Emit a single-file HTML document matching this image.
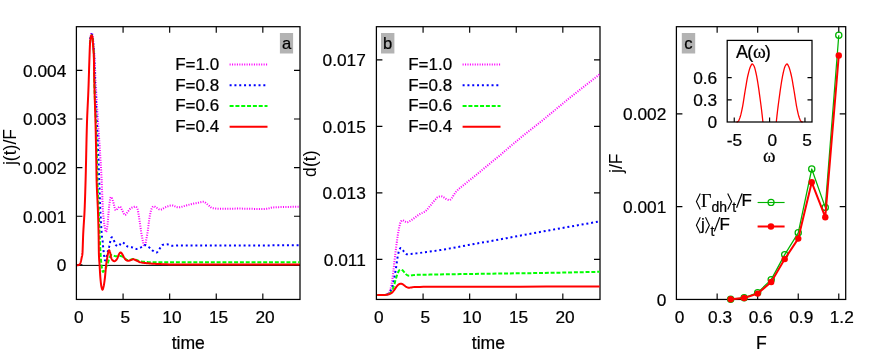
<!DOCTYPE html>
<html lang="en">
<head>
<meta charset="utf-8">
<title>Figure: j(t)/F, d(t) and j/F vs F</title>
<style>
html,body{margin:0;padding:0;background:#fff;}
body{width:872px;height:354px;overflow:hidden;font-family:"Liberation Sans",sans-serif;}
svg{display:block;will-change:transform;}
svg text{font-family:"Liberation Sans",sans-serif;fill:#000;stroke:#000;stroke-width:0.22px;}
svg text.v{stroke:none;}
svg text.sf{font-family:"Liberation Serif",serif;}
</style>
</head>
<body>
<svg width="872" height="354" viewBox="0 0 872 354">
<rect x="0" y="0" width="872" height="354" fill="#fff"/>
<g id="panel-a">
<path d="M76.4,265.4H300.0" stroke="#000" stroke-width="1" fill="none"/>
<rect x="76.4" y="26.7" width="223.60" height="272.75" fill="none" stroke="#000" stroke-width="1.25"/>
<path d="M123.08,299.45v-6M123.08,26.7v6M169.67,299.45v-6M169.67,26.7v6M216.25,299.45v-6M216.25,26.7v6M262.83,299.45v-6M262.83,26.7v6" stroke="#000" stroke-width="1.15" fill="none"/>
<path d="M76.4,264.80h6M300.0,264.80h-6M76.4,216.20h6M300.0,216.20h-6M76.4,167.60h6M300.0,167.60h-6M76.4,119.00h6M300.0,119.00h-6M76.4,70.40h6M300.0,70.40h-6" stroke="#000" stroke-width="1.15" fill="none"/>
<path d="M89.90,44.00 L89.96,43.01 L90.02,42.06 L90.08,41.17 L90.13,40.35 L90.19,39.62 L90.25,39.00 L90.34,38.16 L90.43,37.39 L90.53,36.70 L90.62,36.10 L90.71,35.60 L90.80,35.20 L90.95,34.65 L91.10,34.13 L91.25,33.68 L91.40,33.32 L91.55,33.08 L91.70,33.00 L91.85,33.08 L92.00,33.31 L92.15,33.66 L92.30,34.11 L92.45,34.63 L92.60,35.20 L92.68,35.60 L92.77,36.12 L92.85,36.75 L92.93,37.45 L93.02,38.21 L93.10,39.00 L93.17,39.70 L93.23,40.49 L93.30,41.35 L93.37,42.24 L93.43,43.13 L93.50,44.00 L93.68,46.21 L93.87,48.29 L94.05,50.38 L94.23,52.61 L94.42,55.11 L94.60,58.00 L94.72,60.30 L94.83,63.08 L94.95,66.14 L95.07,69.28 L95.18,72.30 L95.30,75.00 L95.43,77.75 L95.57,80.34 L95.70,82.83 L95.83,85.25 L95.97,87.63 L96.10,90.00 L96.42,95.61 L96.73,101.12 L97.05,106.51 L97.37,111.79 L97.68,116.96 L98.00,122.00 L98.32,126.83 L98.63,131.45 L98.95,135.97 L99.27,140.49 L99.58,145.13 L99.90,150.00 L100.19,154.62 L100.48,159.29 L100.78,164.09 L101.07,169.08 L101.36,174.36 L101.65,180.00 L101.88,185.10 L102.10,191.01 L102.33,197.20 L102.55,203.12 L102.78,208.23 L103.00,212.00 L103.27,215.22 L103.53,218.02 L103.80,220.45 L104.07,222.55 L104.33,224.39 L104.60,226.00 L104.83,227.37 L105.07,228.74 L105.30,230.00 L105.53,231.04 L105.77,231.74 L106.00,232.00 L106.23,231.76 L106.47,231.09 L106.70,230.09 L106.93,228.85 L107.17,227.45 L107.40,226.00 L107.63,224.12 L107.87,221.55 L108.10,218.59 L108.33,215.49 L108.57,212.54 L108.80,210.00 L109.00,208.06 L109.20,206.12 L109.40,204.26 L109.60,202.57 L109.80,201.12 L110.00,200.00 L110.15,199.29 L110.30,198.60 L110.45,197.97 L110.60,197.47 L110.75,197.13 L110.90,197.00 L111.05,197.04 L111.20,197.16 L111.35,197.33 L111.50,197.54 L111.65,197.77 L111.80,198.00 L112.08,198.55 L112.37,199.30 L112.65,200.18 L112.93,201.13 L113.22,202.09 L113.50,203.00 L113.88,204.36 L114.27,205.96 L114.65,207.58 L115.03,209.00 L115.42,210.02 L115.80,210.40 L116.17,210.27 L116.53,209.92 L116.90,209.44 L117.27,208.91 L117.63,208.40 L118.00,208.00 L118.32,207.70 L118.63,207.39 L118.95,207.09 L119.27,206.84 L119.58,206.67 L119.90,206.60 L120.33,206.83 L120.77,207.42 L121.20,208.27 L121.63,209.23 L122.07,210.18 L122.50,211.00 L122.92,211.77 L123.33,212.65 L123.75,213.51 L124.17,214.27 L124.58,214.80 L125.00,215.00 L125.50,214.82 L126.00,214.35 L126.50,213.69 L127.00,212.93 L127.50,212.17 L128.00,211.50 L128.43,210.96 L128.87,210.38 L129.30,209.79 L129.73,209.25 L130.17,208.77 L130.60,208.40 L131.00,208.13 L131.40,207.90 L131.80,207.68 L132.20,207.50 L132.60,207.34 L133.00,207.20 L133.43,207.06 L133.87,206.92 L134.30,206.80 L134.73,206.69 L135.17,206.63 L135.60,206.60 L135.92,206.69 L136.23,206.93 L136.55,207.30 L136.87,207.79 L137.18,208.36 L137.50,209.00 L137.75,209.75 L138.00,210.88 L138.25,212.28 L138.50,213.84 L138.75,215.45 L139.00,217.00 L139.42,219.67 L139.83,222.64 L140.25,225.73 L140.67,228.77 L141.08,231.59 L141.50,234.00 L141.98,236.63 L142.47,239.33 L142.95,241.88 L143.43,244.00 L143.92,245.46 L144.40,246.00 L144.88,245.47 L145.37,244.03 L145.85,241.92 L146.33,239.38 L146.82,236.66 L147.30,234.00 L147.72,231.43 L148.13,228.33 L148.55,224.96 L148.97,221.59 L149.38,218.52 L149.80,216.00 L150.08,214.55 L150.37,213.14 L150.65,211.83 L150.93,210.67 L151.22,209.71 L151.50,209.00 L151.85,208.31 L152.20,207.68 L152.55,207.13 L152.90,206.69 L153.25,206.40 L153.60,206.30 L154.17,206.39 L154.73,206.61 L155.30,206.94 L155.87,207.31 L156.43,207.68 L157.00,208.00 L157.57,208.32 L158.13,208.69 L158.70,209.06 L159.27,209.39 L159.83,209.61 L160.40,209.70 L161.17,209.58 L161.93,209.26 L162.70,208.82 L163.47,208.33 L164.23,207.87 L165.00,207.50 L166.12,207.05 L167.23,206.57 L168.35,206.13 L169.47,205.75 L170.58,205.50 L171.70,205.40 L172.83,205.55 L173.97,205.92 L175.10,206.40 L176.23,206.88 L177.37,207.25 L178.50,207.40 L179.58,207.32 L180.67,207.11 L181.75,206.80 L182.83,206.46 L183.92,206.11 L185.00,205.80 L186.17,205.50 L187.33,205.19 L188.50,204.88 L189.67,204.57 L190.83,204.27 L192.00,204.00 L193.00,203.78 L194.00,203.58 L195.00,203.38 L196.00,203.18 L197.00,202.99 L198.00,202.80 L198.88,202.61 L199.77,202.39 L200.65,202.17 L201.53,201.98 L202.42,201.85 L203.30,201.80 L204.07,201.94 L204.83,202.32 L205.60,202.85 L206.37,203.48 L207.13,204.12 L207.90,204.70 L208.65,205.29 L209.40,205.99 L210.15,206.70 L210.90,207.34 L211.65,207.84 L212.40,208.10 L213.90,208.31 L215.40,208.49 L216.90,208.62 L218.40,208.72 L219.90,208.78 L221.40,208.80 L224.42,208.79 L227.43,208.75 L230.45,208.70 L233.47,208.65 L236.48,208.61 L239.50,208.60 L241.25,208.61 L243.00,208.64 L244.75,208.68 L246.50,208.72 L248.25,208.76 L250.00,208.80 L252.00,208.84 L254.00,208.88 L256.00,208.93 L258.00,208.96 L260.00,208.99 L262.00,209.00 L262.83,208.99 L263.67,208.97 L264.50,208.94 L265.33,208.90 L266.17,208.85 L267.00,208.80 L267.83,208.67 L268.67,208.44 L269.50,208.16 L270.33,207.88 L271.17,207.64 L272.00,207.50 L273.33,207.39 L274.67,207.31 L276.00,207.24 L277.33,207.18 L278.67,207.14 L280.00,207.10 L283.25,207.02 L286.50,206.95 L289.75,206.89 L293.00,206.84 L296.25,206.81 L299.50,206.80" fill="none" stroke="#ff00ff" stroke-width="2.0" stroke-linejoin="round" stroke-dasharray="1.05 1.38"/>
<path d="M89.95,44.00 L90.01,43.11 L90.07,42.26 L90.12,41.46 L90.18,40.73 L90.24,40.07 L90.30,39.50 L90.38,38.78 L90.47,38.12 L90.55,37.52 L90.63,36.99 L90.72,36.55 L90.80,36.20 L90.94,35.70 L91.08,35.23 L91.22,34.82 L91.37,34.49 L91.51,34.28 L91.65,34.20 L91.79,34.27 L91.93,34.48 L92.08,34.80 L92.22,35.21 L92.36,35.68 L92.50,36.20 L92.58,36.54 L92.65,36.97 L92.72,37.49 L92.80,38.10 L92.88,38.77 L92.95,39.50 L93.00,40.08 L93.05,40.79 L93.10,41.58 L93.15,42.41 L93.20,43.23 L93.25,44.00 L93.42,46.22 L93.58,48.18 L93.75,50.11 L93.92,52.24 L94.08,54.79 L94.25,58.00 L94.33,60.07 L94.40,62.84 L94.47,66.01 L94.55,69.29 L94.62,72.38 L94.70,75.00 L94.80,77.90 L94.90,80.55 L95.00,83.03 L95.10,85.39 L95.20,87.69 L95.30,90.00 L95.55,95.67 L95.80,101.09 L96.05,106.35 L96.30,111.53 L96.55,116.72 L96.80,122.00 L97.02,126.57 L97.23,131.06 L97.45,135.56 L97.67,140.15 L97.88,144.94 L98.10,150.00 L98.28,154.60 L98.47,159.49 L98.65,164.57 L98.83,169.75 L99.02,174.92 L99.20,180.00 L99.38,185.18 L99.57,190.56 L99.75,195.95 L99.93,201.13 L100.12,205.88 L100.30,210.00 L100.58,215.62 L100.87,220.88 L101.15,225.71 L101.43,230.03 L101.72,233.75 L102.00,236.80 L102.12,237.80 L102.23,238.62 L102.35,239.37 L102.47,240.11 L102.58,240.92 L102.70,241.90 L102.77,242.59 L102.83,243.39 L102.90,244.25 L102.97,245.12 L103.03,245.95 L103.10,246.70 L103.18,247.53 L103.27,248.32 L103.35,249.07 L103.43,249.79 L103.52,250.50 L103.60,251.20 L103.70,252.06 L103.80,252.92 L103.90,253.77 L104.00,254.58 L104.10,255.33 L104.20,256.00 L104.35,256.98 L104.50,258.00 L104.65,258.95 L104.80,259.75 L104.95,260.30 L105.10,260.50 L105.28,260.42 L105.47,260.19 L105.65,259.85 L105.83,259.43 L106.02,258.97 L106.20,258.50 L106.43,257.78 L106.67,256.84 L106.90,255.76 L107.13,254.62 L107.37,253.51 L107.60,252.50 L107.85,251.54 L108.10,250.64 L108.35,249.76 L108.60,248.87 L108.85,247.93 L109.10,246.90 L109.25,246.19 L109.40,245.41 L109.55,244.58 L109.70,243.78 L109.85,243.03 L110.00,242.40 L110.30,241.24 L110.60,240.08 L110.90,239.01 L111.20,238.12 L111.50,237.52 L111.80,237.30 L111.98,237.34 L112.17,237.45 L112.35,237.62 L112.53,237.83 L112.72,238.06 L112.90,238.30 L113.08,238.59 L113.27,238.95 L113.45,239.38 L113.63,239.83 L113.82,240.28 L114.00,240.70 L114.33,241.49 L114.67,242.34 L115.00,243.19 L115.33,243.98 L115.67,244.64 L116.00,245.10 L116.27,245.37 L116.53,245.63 L116.80,245.86 L117.07,246.04 L117.33,246.16 L117.60,246.20 L117.83,246.19 L118.07,246.14 L118.30,246.08 L118.53,246.00 L118.77,245.90 L119.00,245.80 L119.28,245.59 L119.57,245.25 L119.85,244.83 L120.13,244.38 L120.42,243.96 L120.70,243.60 L120.93,243.33 L121.17,243.04 L121.40,242.76 L121.63,242.53 L121.87,242.36 L122.10,242.30 L122.50,242.36 L122.90,242.52 L123.30,242.75 L123.70,243.03 L124.10,243.32 L124.50,243.60 L125.08,244.08 L125.67,244.68 L126.25,245.32 L126.83,245.92 L127.42,246.41 L128.00,246.70 L128.73,246.87 L129.47,246.99 L130.20,247.08 L130.93,247.16 L131.67,247.26 L132.40,247.40 L133.10,247.62 L133.80,247.93 L134.50,248.27 L135.20,248.58 L135.90,248.81 L136.60,248.90 L137.30,248.83 L138.00,248.65 L138.70,248.38 L139.40,248.06 L140.10,247.72 L140.80,247.40 L141.50,247.02 L142.20,246.53 L142.90,246.02 L143.60,245.56 L144.30,245.23 L145.00,245.10 L145.72,245.21 L146.43,245.50 L147.15,245.92 L147.87,246.43 L148.58,246.97 L149.30,247.50 L149.87,247.95 L150.43,248.48 L151.00,249.06 L151.57,249.63 L152.13,250.16 L152.70,250.60 L153.32,251.04 L153.93,251.49 L154.55,251.92 L155.17,252.27 L155.78,252.51 L156.40,252.60 L156.95,252.40 L157.50,251.87 L158.05,251.11 L158.60,250.25 L159.15,249.37 L159.70,248.60 L160.18,247.93 L160.67,247.16 L161.15,246.39 L161.63,245.70 L162.12,245.18 L162.60,244.90 L163.35,244.72 L164.10,244.57 L164.85,244.46 L165.60,244.37 L166.35,244.32 L167.10,244.30 L167.87,244.41 L168.63,244.69 L169.40,245.05 L170.17,245.41 L170.93,245.69 L171.70,245.80 L173.08,245.77 L174.47,245.70 L175.85,245.60 L177.23,245.50 L178.62,245.43 L180.00,245.40 L181.67,245.41 L183.33,245.43 L185.00,245.45 L186.67,245.47 L188.33,245.49 L190.00,245.50 L208.25,245.50 L226.50,245.49 L244.75,245.46 L263.00,245.41 L281.25,245.33 L299.50,245.20" fill="none" stroke="#0000ff" stroke-width="2.0" stroke-linejoin="round" stroke-dasharray="2 2.82"/>
<path d="M90.00,44.00 L90.06,43.21 L90.12,42.45 L90.17,41.74 L90.23,41.09 L90.29,40.51 L90.35,40.00 L90.42,39.42 L90.50,38.89 L90.57,38.41 L90.65,37.98 L90.72,37.61 L90.80,37.30 L90.93,36.81 L91.07,36.35 L91.20,35.93 L91.33,35.60 L91.47,35.38 L91.60,35.30 L91.73,35.38 L91.87,35.59 L92.00,35.92 L92.13,36.33 L92.27,36.80 L92.40,37.30 L92.47,37.59 L92.53,37.94 L92.60,38.35 L92.67,38.83 L92.73,39.38 L92.80,40.00 L92.84,40.49 L92.88,41.11 L92.92,41.82 L92.97,42.57 L93.01,43.31 L93.05,44.00 L93.21,46.09 L93.37,47.72 L93.53,49.31 L93.68,51.28 L93.84,54.04 L94.00,58.00 L94.03,59.69 L94.07,62.48 L94.10,65.88 L94.13,69.42 L94.17,72.62 L94.20,75.00 L94.27,78.34 L94.33,81.20 L94.40,83.68 L94.47,85.89 L94.53,87.96 L94.60,90.00 L94.82,96.13 L95.03,101.42 L95.25,106.25 L95.47,111.03 L95.68,116.15 L95.90,122.00 L96.03,126.07 L96.17,130.44 L96.30,135.07 L96.43,139.90 L96.57,144.89 L96.70,150.00 L96.82,154.85 L96.93,160.18 L97.05,165.67 L97.17,171.02 L97.28,175.90 L97.40,180.00 L97.62,186.13 L97.83,191.34 L98.05,195.99 L98.27,200.41 L98.48,204.97 L98.70,210.00 L98.85,213.89 L99.00,218.01 L99.15,222.22 L99.30,226.38 L99.45,230.35 L99.60,234.00 L99.77,237.79 L99.93,241.47 L100.10,244.99 L100.27,248.29 L100.43,251.31 L100.60,254.00 L100.77,256.48 L100.93,258.86 L101.10,261.07 L101.27,263.05 L101.43,264.72 L101.60,266.00 L101.83,267.48 L102.07,268.86 L102.30,270.07 L102.53,271.03 L102.77,271.67 L103.00,271.90 L103.25,271.81 L103.50,271.57 L103.75,271.22 L104.00,270.81 L104.25,270.39 L104.50,270.00 L104.75,269.63 L105.00,269.25 L105.25,268.84 L105.50,268.42 L105.75,267.97 L106.00,267.50 L106.25,266.99 L106.50,266.45 L106.75,265.88 L107.00,265.28 L107.25,264.65 L107.50,264.00 L107.78,263.19 L108.07,262.30 L108.35,261.37 L108.63,260.45 L108.92,259.57 L109.20,258.80 L109.42,258.25 L109.63,257.69 L109.85,257.16 L110.07,256.68 L110.28,256.29 L110.50,256.00 L110.75,255.75 L111.00,255.51 L111.25,255.31 L111.50,255.14 L111.75,255.04 L112.00,255.00 L112.33,255.05 L112.67,255.16 L113.00,255.32 L113.33,255.50 L113.67,255.67 L114.00,255.80 L114.33,255.91 L114.67,256.02 L115.00,256.13 L115.33,256.22 L115.67,256.28 L116.00,256.30 L116.33,256.30 L116.67,256.29 L117.00,256.27 L117.33,256.25 L117.67,256.22 L118.00,256.20 L118.25,256.17 L118.50,256.13 L118.75,256.09 L119.00,256.04 L119.25,256.01 L119.50,256.00 L119.83,256.01 L120.17,256.03 L120.50,256.06 L120.83,256.10 L121.17,256.15 L121.50,256.20 L121.83,256.28 L122.17,256.42 L122.50,256.59 L122.83,256.78 L123.17,256.99 L123.50,257.20 L123.83,257.43 L124.17,257.69 L124.50,257.98 L124.83,258.27 L125.17,258.55 L125.50,258.80 L125.82,259.04 L126.13,259.31 L126.45,259.57 L126.77,259.79 L127.08,259.94 L127.40,260.00 L127.83,259.99 L128.27,259.97 L128.70,259.94 L129.13,259.90 L129.57,259.85 L130.00,259.80 L130.53,259.70 L131.07,259.54 L131.60,259.35 L132.13,259.18 L132.67,259.05 L133.20,259.00 L133.75,259.05 L134.30,259.18 L134.85,259.36 L135.40,259.58 L135.95,259.80 L136.50,260.00 L137.08,260.22 L137.67,260.46 L138.25,260.71 L138.83,260.95 L139.42,261.15 L140.00,261.30 L140.83,261.44 L141.67,261.56 L142.50,261.67 L143.33,261.75 L144.17,261.83 L145.00,261.90 L145.83,261.97 L146.67,262.03 L147.50,262.09 L148.33,262.14 L149.17,262.18 L150.00,262.20 L151.67,262.23 L153.33,262.25 L155.00,262.27 L156.67,262.29 L158.33,262.30 L160.00,262.30 L183.25,262.30 L206.50,262.30 L229.75,262.30 L253.00,262.30 L276.25,262.30 L299.50,262.30" fill="none" stroke="#00ff00" stroke-width="2.0" stroke-linejoin="round" stroke-dasharray="4 1.82"/>
<path d="M77.00,265.30 L77.17,265.30 L77.33,265.29 L77.50,265.27 L77.67,265.25 L77.83,265.23 L78.00,265.20 L78.22,265.15 L78.43,265.08 L78.65,264.99 L78.87,264.88 L79.08,264.75 L79.30,264.60 L79.47,264.46 L79.63,264.28 L79.80,264.06 L79.97,263.81 L80.13,263.52 L80.30,263.20 L80.42,262.93 L80.53,262.60 L80.65,262.22 L80.77,261.80 L80.88,261.36 L81.00,260.90 L81.12,260.41 L81.23,259.87 L81.35,259.29 L81.47,258.69 L81.58,258.09 L81.70,257.50 L81.82,256.97 L81.93,256.51 L82.05,256.04 L82.17,255.50 L82.28,254.84 L82.40,254.00 L82.53,252.14 L82.67,249.07 L82.80,245.25 L82.93,241.15 L83.07,237.25 L83.20,234.00 L83.43,229.59 L83.67,225.78 L83.90,222.26 L84.13,218.67 L84.37,214.70 L84.60,210.00 L84.77,206.01 L84.93,201.50 L85.10,196.54 L85.27,191.25 L85.43,185.70 L85.60,180.00 L85.83,171.07 L86.07,160.86 L86.30,150.12 L86.53,139.57 L86.77,129.95 L87.00,122.00 L87.23,115.71 L87.47,110.32 L87.70,105.45 L87.93,100.70 L88.17,95.68 L88.40,90.00 L88.58,85.10 L88.75,79.75 L88.93,74.16 L89.10,68.53 L89.28,63.07 L89.45,58.00 L89.54,55.41 L89.63,52.76 L89.72,50.17 L89.82,47.76 L89.91,45.66 L90.00,44.00 L90.06,43.15 L90.12,42.37 L90.17,41.68 L90.23,41.05 L90.29,40.49 L90.35,40.00 L90.42,39.42 L90.50,38.89 L90.57,38.41 L90.65,37.98 L90.72,37.61 L90.80,37.30 L90.93,36.81 L91.07,36.35 L91.20,35.93 L91.33,35.60 L91.47,35.38 L91.60,35.30 L91.73,35.37 L91.87,35.58 L92.00,35.90 L92.13,36.30 L92.27,36.78 L92.40,37.30 L92.46,37.58 L92.52,37.93 L92.58,38.36 L92.63,38.85 L92.69,39.40 L92.75,40.00 L92.79,40.51 L92.83,41.14 L92.88,41.84 L92.92,42.57 L92.96,43.31 L93.00,44.00 L93.15,46.09 L93.30,47.82 L93.45,49.55 L93.60,51.60 L93.75,54.30 L93.90,58.00 L93.94,59.78 L93.98,62.48 L94.03,65.73 L94.07,69.15 L94.11,72.37 L94.15,75.00 L94.21,77.96 L94.27,80.68 L94.33,83.19 L94.38,85.55 L94.44,87.80 L94.50,90.00 L94.67,95.82 L94.83,101.00 L95.00,105.87 L95.17,110.77 L95.33,116.03 L95.50,122.00 L95.60,126.02 L95.70,130.35 L95.80,134.94 L95.90,139.77 L96.00,144.80 L96.10,150.00 L96.18,154.86 L96.27,160.36 L96.35,166.06 L96.43,171.53 L96.52,176.32 L96.60,180.00 L96.82,186.74 L97.03,191.94 L97.25,196.23 L97.47,200.24 L97.68,204.62 L97.90,210.00 L98.02,213.29 L98.13,216.69 L98.25,220.32 L98.37,224.33 L98.48,228.85 L98.60,234.00 L98.65,236.93 L98.70,240.65 L98.75,244.71 L98.80,248.60 L98.85,251.86 L98.90,254.00 L99.02,256.89 L99.13,259.08 L99.25,260.79 L99.37,262.26 L99.48,263.72 L99.60,265.40 L99.73,267.61 L99.87,269.90 L100.00,272.19 L100.13,274.36 L100.27,276.33 L100.40,278.00 L100.57,279.82 L100.73,281.53 L100.90,283.10 L101.07,284.48 L101.23,285.62 L101.40,286.50 L101.58,287.29 L101.77,288.04 L101.95,288.70 L102.13,289.23 L102.32,289.57 L102.50,289.70 L102.68,289.56 L102.87,289.20 L103.05,288.65 L103.23,287.98 L103.42,287.24 L103.60,286.50 L103.82,285.51 L104.03,284.31 L104.25,282.92 L104.47,281.38 L104.68,279.73 L104.90,278.00 L105.10,276.17 L105.30,274.02 L105.50,271.71 L105.70,269.40 L105.90,267.24 L106.10,265.40 L106.28,263.96 L106.47,262.64 L106.65,261.41 L106.83,260.24 L107.02,259.11 L107.20,258.00 L107.37,256.97 L107.53,255.94 L107.70,254.93 L107.87,253.99 L108.03,253.17 L108.20,252.50 L108.35,251.97 L108.50,251.44 L108.65,250.96 L108.80,250.57 L108.95,250.30 L109.10,250.20 L109.27,250.30 L109.43,250.57 L109.60,250.97 L109.77,251.45 L109.93,251.98 L110.10,252.50 L110.30,253.26 L110.50,254.24 L110.70,255.33 L110.90,256.40 L111.10,257.33 L111.30,258.00 L111.55,258.59 L111.80,259.12 L112.05,259.59 L112.30,259.97 L112.55,260.28 L112.80,260.50 L113.07,260.68 L113.33,260.85 L113.60,260.99 L113.87,261.10 L114.13,261.17 L114.40,261.20 L114.67,261.16 L114.93,261.06 L115.20,260.92 L115.47,260.73 L115.73,260.52 L116.00,260.30 L116.25,260.05 L116.50,259.73 L116.75,259.35 L117.00,258.93 L117.25,258.47 L117.50,258.00 L117.75,257.44 L118.00,256.76 L118.25,256.04 L118.50,255.32 L118.75,254.69 L119.00,254.20 L119.27,253.78 L119.53,253.36 L119.80,252.99 L120.07,252.68 L120.33,252.48 L120.60,252.40 L120.88,252.48 L121.17,252.70 L121.45,253.02 L121.73,253.40 L122.02,253.81 L122.30,254.20 L122.65,254.73 L123.00,255.38 L123.35,256.08 L123.70,256.78 L124.05,257.44 L124.40,258.00 L124.72,258.45 L125.03,258.90 L125.35,259.32 L125.67,259.69 L125.98,259.99 L126.30,260.20 L126.62,260.35 L126.93,260.50 L127.25,260.62 L127.57,260.71 L127.88,260.78 L128.20,260.80 L128.58,260.77 L128.97,260.69 L129.35,260.58 L129.73,260.45 L130.12,260.32 L130.50,260.20 L130.95,260.04 L131.40,259.85 L131.85,259.65 L132.30,259.47 L132.75,259.35 L133.20,259.30 L133.75,259.36 L134.30,259.51 L134.85,259.73 L135.40,259.99 L135.95,260.25 L136.50,260.50 L137.08,260.77 L137.67,261.09 L138.25,261.42 L138.83,261.74 L139.42,262.01 L140.00,262.20 L140.83,262.39 L141.67,262.55 L142.50,262.68 L143.33,262.79 L144.17,262.90 L145.00,263.00 L145.83,263.10 L146.67,263.19 L147.50,263.28 L148.33,263.36 L149.17,263.43 L150.00,263.50 L151.00,263.58 L152.00,263.65 L153.00,263.72 L154.00,263.79 L155.00,263.85 L156.00,263.90 L157.17,263.96 L158.33,264.02 L159.50,264.07 L160.67,264.12 L161.83,264.16 L163.00,264.20 L165.00,264.27 L167.00,264.33 L169.00,264.39 L171.00,264.44 L173.00,264.48 L175.00,264.50 L179.17,264.53 L183.33,264.55 L187.50,264.57 L191.67,264.59 L195.83,264.60 L200.00,264.60 L216.58,264.60 L233.17,264.60 L249.75,264.60 L266.33,264.60 L282.92,264.60 L299.50,264.60" fill="none" stroke="#ff0000" stroke-width="2.0" stroke-linejoin="round" />
<text x="66.30" y="271.10" font-size="17.3" text-anchor="end" >0</text>
<text x="66.30" y="222.50" font-size="17.3" text-anchor="end" >0.001</text>
<text x="66.30" y="173.90" font-size="17.3" text-anchor="end" >0.002</text>
<text x="66.30" y="125.30" font-size="17.3" text-anchor="end" >0.003</text>
<text x="66.30" y="76.70" font-size="17.3" text-anchor="end" >0.004</text>
<text x="78.80" y="322.70" font-size="17.3" text-anchor="middle" >0</text>
<text x="125.38" y="322.70" font-size="17.3" text-anchor="middle" >5</text>
<text x="171.97" y="322.70" font-size="17.3" text-anchor="middle" >10</text>
<text x="218.55" y="322.70" font-size="17.3" text-anchor="middle" >15</text>
<text x="265.13" y="322.70" font-size="17.3" text-anchor="middle" >20</text>
<text x="188.25" y="349.00" font-size="17.6" text-anchor="middle" >time</text>
<text transform="translate(16.30,147.00) rotate(-90)" class="v" font-size="17.6" text-anchor="middle">j(t)/F</text>
<text x="219.20" y="69.90" font-size="17.0" text-anchor="end" >F=1.0</text>
<path d="M229.6,64.50H267.5" fill="none" stroke="#ff00ff" stroke-width="2.0" stroke-linejoin="round" stroke-dasharray="1.05 1.38"/>
<text x="219.20" y="90.65" font-size="17.0" text-anchor="end" >F=0.8</text>
<path d="M229.6,85.25H267.5" fill="none" stroke="#0000ff" stroke-width="2.0" stroke-linejoin="round" stroke-dasharray="2 2.82"/>
<text x="219.20" y="111.40" font-size="17.0" text-anchor="end" >F=0.6</text>
<path d="M229.6,106.00H267.5" fill="none" stroke="#00ff00" stroke-width="2.0" stroke-linejoin="round" stroke-dasharray="4 1.82"/>
<text x="219.20" y="132.15" font-size="17.0" text-anchor="end" >F=0.4</text>
<path d="M229.6,126.75H267.5" fill="none" stroke="#ff0000" stroke-width="2.0" stroke-linejoin="round" />
<rect x="279.9" y="33" width="13.2" height="20.5" fill="#b3b3b3"/>
<text x="286.60" y="49.00" font-size="16.6" text-anchor="middle" >a</text>
</g>
<g id="panel-b">
<rect x="376.4" y="26.7" width="223.60" height="272.75" fill="none" stroke="#000" stroke-width="1.25"/>
<path d="M423.08,299.45v-6M423.08,26.7v6M469.67,299.45v-6M469.67,26.7v6M516.25,299.45v-6M516.25,26.7v6M562.83,299.45v-6M562.83,26.7v6" stroke="#000" stroke-width="1.15" fill="none"/>
<path d="M376.4,259.40h6M600.0,259.40h-6M376.4,192.90h6M600.0,192.90h-6M376.4,126.40h6M600.0,126.40h-6M376.4,59.90h6M600.0,59.90h-6" stroke="#000" stroke-width="1.15" fill="none"/>
<path d="M377.20,295.00 L378.33,295.00 L379.47,295.00 L380.60,295.00 L381.73,295.00 L382.87,295.00 L384.00,295.00 L384.42,294.99 L384.83,294.96 L385.25,294.92 L385.67,294.86 L386.08,294.78 L386.50,294.70 L386.83,294.59 L387.17,294.42 L387.50,294.18 L387.83,293.89 L388.17,293.56 L388.50,293.20 L388.78,292.81 L389.07,292.31 L389.35,291.71 L389.63,291.03 L389.92,290.29 L390.20,289.50 L390.43,288.80 L390.67,288.00 L390.90,287.13 L391.13,286.16 L391.37,285.12 L391.60,284.00 L391.83,282.74 L392.07,281.31 L392.30,279.73 L392.53,278.05 L392.77,276.30 L393.00,274.50 L393.27,272.31 L393.53,269.93 L393.80,267.43 L394.07,264.89 L394.33,262.39 L394.60,260.00 L394.88,257.56 L395.17,255.15 L395.45,252.78 L395.73,250.46 L396.02,248.19 L396.30,246.00 L396.58,243.85 L396.87,241.74 L397.15,239.67 L397.43,237.68 L397.72,235.78 L398.00,234.00 L398.25,232.49 L398.50,231.02 L398.75,229.60 L399.00,228.28 L399.25,227.07 L399.50,226.00 L399.75,225.01 L400.00,224.04 L400.25,223.13 L400.50,222.34 L400.75,221.72 L401.00,221.30 L401.25,221.01 L401.50,220.75 L401.75,220.53 L402.00,220.35 L402.25,220.24 L402.50,220.20 L402.83,220.26 L403.17,220.42 L403.50,220.63 L403.83,220.88 L404.17,221.11 L404.50,221.30 L404.92,221.51 L405.33,221.73 L405.75,221.95 L406.17,222.13 L406.58,222.25 L407.00,222.30 L407.50,222.24 L408.00,222.08 L408.50,221.85 L409.00,221.57 L409.50,221.28 L410.00,221.00 L410.83,220.52 L411.67,219.96 L412.50,219.36 L413.33,218.73 L414.17,218.10 L415.00,217.50 L415.83,216.90 L416.67,216.29 L417.50,215.68 L418.33,215.08 L419.17,214.52 L420.00,214.00 L420.83,213.56 L421.67,213.17 L422.50,212.82 L423.33,212.44 L424.17,212.02 L425.00,211.50 L425.83,210.83 L426.67,209.99 L427.50,209.04 L428.33,208.02 L429.17,206.99 L430.00,206.00 L430.83,205.02 L431.67,204.00 L432.50,202.96 L433.33,201.93 L434.17,200.94 L435.00,200.00 L435.50,199.43 L436.00,198.83 L436.50,198.24 L437.00,197.71 L437.50,197.28 L438.00,197.00 L438.50,196.82 L439.00,196.65 L439.50,196.51 L440.00,196.40 L440.50,196.33 L441.00,196.30 L441.50,196.35 L442.00,196.50 L442.50,196.71 L443.00,196.97 L443.50,197.24 L444.00,197.50 L444.50,197.80 L445.00,198.16 L445.50,198.56 L446.00,198.94 L446.50,199.27 L447.00,199.50 L447.42,199.65 L447.83,199.78 L448.25,199.91 L448.67,200.01 L449.08,200.08 L449.50,200.10 L449.92,200.00 L450.33,199.72 L450.75,199.32 L451.17,198.83 L451.58,198.31 L452.00,197.80 L452.42,197.25 L452.83,196.59 L453.25,195.87 L453.67,195.14 L454.08,194.43 L454.50,193.80 L454.90,193.25 L455.30,192.71 L455.70,192.19 L456.10,191.70 L456.50,191.24 L456.90,190.80 L458.32,189.40 L459.73,188.13 L461.15,186.96 L462.57,185.84 L463.98,184.74 L465.40,183.60 L466.82,182.45 L468.23,181.31 L469.65,180.19 L471.07,179.07 L472.48,177.94 L473.90,176.80 L475.32,175.65 L476.73,174.48 L478.15,173.32 L479.57,172.15 L480.98,170.97 L482.40,169.80 L483.80,168.64 L485.20,167.47 L486.60,166.29 L488.00,165.12 L489.40,163.96 L490.80,162.80 L492.22,161.65 L493.63,160.50 L495.05,159.37 L496.47,158.23 L497.88,157.08 L499.30,155.90 L500.30,155.05 L501.30,154.19 L502.30,153.31 L503.30,152.44 L504.30,151.56 L505.30,150.70 L507.87,148.50 L510.43,146.31 L513.00,144.13 L515.57,141.97 L518.13,139.82 L520.70,137.70 L524.38,134.71 L528.07,131.78 L531.75,128.87 L535.43,125.97 L539.12,123.06 L542.80,120.10 L547.38,116.35 L551.97,112.55 L556.55,108.73 L561.13,104.92 L565.72,101.13 L570.30,97.40 L575.20,93.47 L580.10,89.57 L585.00,85.70 L589.90,81.87 L594.80,78.07 L599.70,74.30" fill="none" stroke="#ff00ff" stroke-width="2.0" stroke-linejoin="round" stroke-dasharray="1.05 1.38"/>
<path d="M377.20,295.00 L378.33,295.00 L379.47,295.00 L380.60,295.00 L381.73,295.00 L382.87,295.00 L384.00,295.00 L384.42,294.99 L384.83,294.96 L385.25,294.91 L385.67,294.85 L386.08,294.78 L386.50,294.70 L386.83,294.61 L387.17,294.47 L387.50,294.29 L387.83,294.08 L388.17,293.85 L388.50,293.60 L388.78,293.36 L389.07,293.06 L389.35,292.72 L389.63,292.35 L389.92,291.94 L390.20,291.50 L390.50,290.99 L390.80,290.42 L391.10,289.78 L391.40,289.08 L391.70,288.32 L392.00,287.50 L392.33,286.47 L392.67,285.28 L393.00,283.97 L393.33,282.55 L393.67,281.05 L394.00,279.50 L394.33,277.84 L394.67,276.04 L395.00,274.12 L395.33,272.11 L395.67,270.06 L396.00,268.00 L396.30,266.03 L396.60,263.90 L396.90,261.73 L397.20,259.61 L397.50,257.67 L397.80,256.00 L398.05,254.76 L398.30,253.56 L398.55,252.44 L398.80,251.45 L399.05,250.62 L399.30,250.00 L399.55,249.50 L399.80,249.04 L400.05,248.62 L400.30,248.30 L400.55,248.08 L400.80,248.00 L401.08,248.07 L401.37,248.25 L401.65,248.52 L401.93,248.83 L402.22,249.17 L402.50,249.50 L402.83,249.93 L403.17,250.44 L403.50,251.00 L403.83,251.56 L404.17,252.08 L404.50,252.50 L404.83,252.88 L405.17,253.26 L405.50,253.62 L405.83,253.92 L406.17,254.12 L406.50,254.20 L406.92,254.20 L407.33,254.18 L407.75,254.17 L408.17,254.15 L408.58,254.12 L409.00,254.10 L410.83,253.97 L412.67,253.80 L414.50,253.59 L416.33,253.37 L418.17,253.13 L420.00,252.90 L423.33,252.48 L426.67,252.05 L430.00,251.59 L433.33,251.11 L436.67,250.61 L440.00,250.10 L445.67,249.18 L451.33,248.18 L457.00,247.14 L462.67,246.08 L468.33,245.03 L474.00,244.00 L476.67,243.53 L479.33,243.07 L482.00,242.60 L484.67,242.14 L487.33,241.67 L490.00,241.20 L498.33,239.69 L506.67,238.16 L515.00,236.61 L523.33,235.06 L531.67,233.52 L540.00,232.00 L549.95,230.21 L559.90,228.42 L569.85,226.65 L579.80,224.89 L589.75,223.14 L599.70,221.40" fill="none" stroke="#0000ff" stroke-width="2.0" stroke-linejoin="round" stroke-dasharray="2 2.82"/>
<path d="M377.20,295.00 L378.33,295.00 L379.47,295.00 L380.60,295.00 L381.73,295.00 L382.87,295.00 L384.00,295.00 L384.42,294.99 L384.83,294.96 L385.25,294.91 L385.67,294.85 L386.08,294.77 L386.50,294.70 L386.83,294.63 L387.17,294.53 L387.50,294.42 L387.83,294.29 L388.17,294.15 L388.50,294.00 L388.78,293.85 L389.07,293.68 L389.35,293.49 L389.63,293.28 L389.92,293.05 L390.20,292.80 L390.50,292.51 L390.80,292.19 L391.10,291.82 L391.40,291.42 L391.70,290.98 L392.00,290.50 L392.33,289.88 L392.67,289.14 L393.00,288.31 L393.33,287.41 L393.67,286.47 L394.00,285.50 L394.33,284.46 L394.67,283.30 L395.00,282.08 L395.33,280.84 L395.67,279.63 L396.00,278.50 L396.33,277.40 L396.67,276.29 L397.00,275.20 L397.33,274.18 L397.67,273.27 L398.00,272.50 L398.27,271.96 L398.53,271.44 L398.80,270.96 L399.07,270.54 L399.33,270.22 L399.60,270.00 L399.83,269.87 L400.07,269.75 L400.30,269.65 L400.53,269.57 L400.77,269.52 L401.00,269.50 L401.25,269.53 L401.50,269.63 L401.75,269.77 L402.00,269.94 L402.25,270.12 L402.50,270.30 L402.83,270.58 L403.17,270.92 L403.50,271.31 L403.83,271.72 L404.17,272.13 L404.50,272.50 L404.88,272.92 L405.27,273.36 L405.65,273.79 L406.03,274.19 L406.42,274.53 L406.80,274.80 L407.22,275.04 L407.63,275.27 L408.05,275.48 L408.47,275.65 L408.88,275.76 L409.30,275.80 L409.75,275.77 L410.20,275.70 L410.65,275.59 L411.10,275.48 L411.55,275.38 L412.00,275.30 L412.67,275.21 L413.33,275.13 L414.00,275.05 L414.67,274.99 L415.33,274.94 L416.00,274.90 L418.33,274.82 L420.67,274.76 L423.00,274.71 L425.33,274.67 L427.67,274.64 L430.00,274.60 L440.00,274.43 L450.00,274.27 L460.00,274.12 L470.00,273.98 L480.00,273.84 L490.00,273.70 L498.33,273.58 L506.67,273.47 L515.00,273.36 L523.33,273.25 L531.67,273.13 L540.00,273.00 L549.95,272.83 L559.90,272.65 L569.85,272.45 L579.80,272.25 L589.75,272.03 L599.70,271.80" fill="none" stroke="#00ff00" stroke-width="2.0" stroke-linejoin="round" stroke-dasharray="4 1.82"/>
<path d="M377.20,295.00 L378.33,295.00 L379.47,295.00 L380.60,295.00 L381.73,295.00 L382.87,295.00 L384.00,295.00 L384.42,294.99 L384.83,294.95 L385.25,294.89 L385.67,294.83 L386.08,294.76 L386.50,294.70 L386.83,294.66 L387.17,294.61 L387.50,294.57 L387.83,294.52 L388.17,294.47 L388.50,294.40 L388.78,294.33 L389.07,294.25 L389.35,294.15 L389.63,294.04 L389.92,293.93 L390.20,293.80 L390.50,293.65 L390.80,293.48 L391.10,293.29 L391.40,293.07 L391.70,292.84 L392.00,292.60 L392.33,292.29 L392.67,291.94 L393.00,291.56 L393.33,291.15 L393.67,290.73 L394.00,290.30 L394.33,289.85 L394.67,289.36 L395.00,288.86 L395.33,288.35 L395.67,287.86 L396.00,287.40 L396.33,286.96 L396.67,286.51 L397.00,286.08 L397.33,285.68 L397.67,285.31 L398.00,285.00 L398.25,284.79 L398.50,284.59 L398.75,284.40 L399.00,284.24 L399.25,284.10 L399.50,284.00 L399.72,283.93 L399.93,283.86 L400.15,283.79 L400.37,283.75 L400.58,283.71 L400.80,283.70 L401.03,283.71 L401.27,283.74 L401.50,283.79 L401.73,283.86 L401.97,283.93 L402.20,284.00 L402.50,284.13 L402.80,284.30 L403.10,284.52 L403.40,284.75 L403.70,284.98 L404.00,285.20 L404.42,285.51 L404.83,285.84 L405.25,286.18 L405.67,286.50 L406.08,286.78 L406.50,287.00 L406.88,287.17 L407.27,287.33 L407.65,287.47 L408.03,287.59 L408.42,287.67 L408.80,287.70 L409.17,287.69 L409.53,287.67 L409.90,287.63 L410.27,287.59 L410.63,287.54 L411.00,287.50 L411.58,287.42 L412.17,287.32 L412.75,287.22 L413.33,287.12 L413.92,287.04 L414.50,287.00 L415.42,286.97 L416.33,286.95 L417.25,286.93 L418.17,286.92 L419.08,286.91 L420.00,286.90 L423.33,286.87 L426.67,286.85 L430.00,286.83 L433.33,286.82 L436.67,286.81 L440.00,286.80 L466.62,286.74 L493.23,286.69 L519.85,286.65 L546.47,286.62 L573.08,286.61 L599.70,286.60" fill="none" stroke="#ff0000" stroke-width="2.0" stroke-linejoin="round" />
<text x="365.80" y="265.70" font-size="17.3" text-anchor="end" >0.011</text>
<text x="365.80" y="199.20" font-size="17.3" text-anchor="end" >0.013</text>
<text x="365.80" y="132.70" font-size="17.3" text-anchor="end" >0.015</text>
<text x="365.80" y="66.20" font-size="17.3" text-anchor="end" >0.017</text>
<text x="378.80" y="322.70" font-size="17.3" text-anchor="middle" >0</text>
<text x="425.38" y="322.70" font-size="17.3" text-anchor="middle" >5</text>
<text x="471.97" y="322.70" font-size="17.3" text-anchor="middle" >10</text>
<text x="518.55" y="322.70" font-size="17.3" text-anchor="middle" >15</text>
<text x="565.13" y="322.70" font-size="17.3" text-anchor="middle" >20</text>
<text x="488.45" y="349.00" font-size="17.6" text-anchor="middle" >time</text>
<text transform="translate(316.30,163.70) rotate(-90)" class="v" font-size="17.6" text-anchor="middle">d(t)</text>
<text x="452.20" y="69.90" font-size="17.0" text-anchor="end" >F=1.0</text>
<path d="M462.6,64.50H500.5" fill="none" stroke="#ff00ff" stroke-width="2.0" stroke-linejoin="round" stroke-dasharray="1.05 1.38"/>
<text x="452.20" y="90.65" font-size="17.0" text-anchor="end" >F=0.8</text>
<path d="M462.6,85.25H500.5" fill="none" stroke="#0000ff" stroke-width="2.0" stroke-linejoin="round" stroke-dasharray="2 2.82"/>
<text x="452.20" y="111.40" font-size="17.0" text-anchor="end" >F=0.6</text>
<path d="M462.6,106.00H500.5" fill="none" stroke="#00ff00" stroke-width="2.0" stroke-linejoin="round" stroke-dasharray="4 1.82"/>
<text x="452.20" y="132.15" font-size="17.0" text-anchor="end" >F=0.4</text>
<path d="M462.6,126.75H500.5" fill="none" stroke="#ff0000" stroke-width="2.0" stroke-linejoin="round" />
<rect x="381" y="33" width="13.4" height="20.5" fill="#b3b3b3"/>
<text x="387.70" y="49.00" font-size="16.6" text-anchor="middle" >b</text>
</g>
<g id="panel-c">
<rect x="676.4" y="26.7" width="169.30" height="272.75" fill="none" stroke="#000" stroke-width="1.25"/>
<path d="M717.14,299.45v-6M717.14,26.7v6M757.69,299.45v-6M757.69,26.7v6M798.24,299.45v-6M798.24,26.7v6M838.78,299.45v-6M838.78,26.7v6" stroke="#000" stroke-width="1.15" fill="none"/>
<path d="M676.4,206.55h6M845.7,206.55h-6M676.4,113.80h6M845.7,113.80h-6" stroke="#000" stroke-width="1.15" fill="none"/>
<path d="M730.66,299.20 L744.18,297.80 L757.69,292.60 L771.21,279.60 L784.72,254.60 L798.24,232.80 L811.75,169.00 L825.27,207.40 L838.78,35.20" fill="none" stroke="#00b400" stroke-width="1.25" stroke-linejoin="round"/>
<circle cx="730.66" cy="299.20" r="3.1" fill="none" stroke="#00b400" stroke-width="1.25"/>
<circle cx="744.18" cy="297.80" r="3.1" fill="none" stroke="#00b400" stroke-width="1.25"/>
<circle cx="757.69" cy="292.60" r="3.1" fill="none" stroke="#00b400" stroke-width="1.25"/>
<circle cx="771.21" cy="279.60" r="3.1" fill="none" stroke="#00b400" stroke-width="1.25"/>
<circle cx="784.72" cy="254.60" r="3.1" fill="none" stroke="#00b400" stroke-width="1.25"/>
<circle cx="798.24" cy="232.80" r="3.1" fill="none" stroke="#00b400" stroke-width="1.25"/>
<circle cx="811.75" cy="169.00" r="3.1" fill="none" stroke="#00b400" stroke-width="1.25"/>
<circle cx="825.27" cy="207.40" r="3.1" fill="none" stroke="#00b400" stroke-width="1.25"/>
<circle cx="838.78" cy="35.20" r="3.1" fill="none" stroke="#00b400" stroke-width="1.25"/>
<path d="M730.66,299.20 L744.18,298.00 L757.69,293.60 L771.21,282.00 L784.72,259.10 L798.24,238.60 L811.75,182.30 L825.27,217.20 L838.78,55.50" fill="none" stroke="#ff0000" stroke-width="2" stroke-linejoin="round"/>
<circle cx="730.66" cy="299.20" r="3.2" fill="#ff0000"/>
<circle cx="744.18" cy="298.00" r="3.2" fill="#ff0000"/>
<circle cx="757.69" cy="293.60" r="3.2" fill="#ff0000"/>
<circle cx="771.21" cy="282.00" r="3.2" fill="#ff0000"/>
<circle cx="784.72" cy="259.10" r="3.2" fill="#ff0000"/>
<circle cx="798.24" cy="238.60" r="3.2" fill="#ff0000"/>
<circle cx="811.75" cy="182.30" r="3.2" fill="#ff0000"/>
<circle cx="825.27" cy="217.20" r="3.2" fill="#ff0000"/>
<circle cx="838.78" cy="55.50" r="3.2" fill="#ff0000"/>
<text x="666.30" y="305.60" font-size="17.3" text-anchor="end" >0</text>
<text x="666.30" y="212.85" font-size="17.3" text-anchor="end" >0.001</text>
<text x="666.30" y="120.10" font-size="17.3" text-anchor="end" >0.002</text>
<text x="679.60" y="322.80" font-size="17.3" text-anchor="middle" >0</text>
<text x="720.14" y="322.80" font-size="17.3" text-anchor="middle" >0.3</text>
<text x="760.69" y="322.80" font-size="17.3" text-anchor="middle" >0.6</text>
<text x="801.24" y="322.80" font-size="17.3" text-anchor="middle" >0.9</text>
<text x="841.78" y="322.80" font-size="17.3" text-anchor="middle" >1.2</text>
<text x="761.40" y="348.60" font-size="17.6" text-anchor="middle" >F</text>
<text transform="translate(621.50,163.20) rotate(-90)" class="v" font-size="17.6" text-anchor="middle">j/F</text>
<rect x="681.8" y="33" width="13.4" height="20.5" fill="#b3b3b3"/>
<text x="688.30" y="49.00" font-size="16.6" text-anchor="middle" >c</text>
<path d="M700.30,193.50L696.40,201.60L700.30,209.60" fill="none" stroke="#000" stroke-width="1.1"/>
<text x="700.90" y="206.70" font-size="18.0" text-anchor="start" class="sf">&#915;</text>
<text x="711.40" y="211.60" font-size="14.0" text-anchor="start" >dh</text>
<path d="M727.70,193.50L731.60,201.60L727.70,209.60" fill="none" stroke="#000" stroke-width="1.1"/>
<text x="732.20" y="211.80" font-size="14.0" text-anchor="start" >t</text>
<path d="M736.60,207.70L742.10,193.40" fill="none" stroke="#000" stroke-width="1.25"/>
<text x="741.60" y="205.80" font-size="17.0" text-anchor="start" >F</text>
<path d="M757.6,202.5H784.6" stroke="#00b400" stroke-width="1.15" fill="none"/>
<circle cx="771.05" cy="202.45" r="3.05" fill="none" stroke="#00b400" stroke-width="1.2"/>
<path d="M700.30,217.20L696.40,225.30L700.30,233.30" fill="none" stroke="#000" stroke-width="1.1"/>
<text x="701.00" y="229.50" font-size="17.3" text-anchor="start" >j</text>
<path d="M705.50,217.20L709.40,225.30L705.50,233.30" fill="none" stroke="#000" stroke-width="1.1"/>
<text x="710.40" y="235.50" font-size="14.0" text-anchor="start" >t</text>
<path d="M714.30,231.40L719.80,217.10" fill="none" stroke="#000" stroke-width="1.25"/>
<text x="719.40" y="229.50" font-size="17.0" text-anchor="start" >F</text>
<path d="M757.6,226.5H784.6" stroke="#ff0000" stroke-width="2" fill="none"/>
<circle cx="770.95" cy="226.5" r="3.25" fill="#ff0000"/>
<rect x="727.2" y="40.4" width="84.80" height="81.60" fill="#fff" stroke="none"/>
<path d="M736.50,122.00 L736.78,121.98 L737.07,121.90 L737.35,121.80 L737.63,121.65 L737.92,121.49 L738.20,121.30 L738.50,120.99 L738.80,120.50 L739.10,119.87 L739.40,119.13 L739.70,118.33 L740.00,117.50 L740.38,116.32 L740.77,114.93 L741.15,113.36 L741.53,111.66 L741.92,109.86 L742.30,108.00 L742.77,105.53 L743.23,102.77 L743.70,99.81 L744.17,96.79 L744.63,93.82 L745.10,91.00 L745.58,88.15 L746.07,85.27 L746.55,82.42 L747.03,79.70 L747.52,77.20 L748.00,75.00 L748.42,73.28 L748.83,71.62 L749.25,70.07 L749.67,68.67 L750.08,67.47 L750.50,66.50 L750.78,65.92 L751.07,65.35 L751.35,64.82 L751.63,64.40 L751.92,64.11 L752.20,64.00 L752.50,64.08 L752.80,64.30 L753.10,64.62 L753.40,65.04 L753.70,65.50 L754.00,66.00 L754.33,66.71 L754.67,67.68 L755.00,68.85 L755.33,70.17 L755.67,71.57 L756.00,73.00 L756.33,74.52 L756.67,76.21 L757.00,78.03 L757.33,79.96 L757.67,81.96 L758.00,84.00 L758.33,86.12 L758.67,88.36 L759.00,90.70 L759.33,93.10 L759.67,95.54 L760.00,98.00 L760.30,100.22 L760.60,102.47 L760.90,104.76 L761.20,107.10 L761.50,109.51 L761.80,112.00 L761.98,113.57 L762.17,115.19 L762.35,116.84 L762.53,118.53 L762.72,120.25 L762.90,122.00" fill="none" stroke="#ff0000" stroke-width="1.3"/>
<path d="M776.30,122.00 L776.48,120.25 L776.67,118.53 L776.85,116.84 L777.03,115.19 L777.22,113.57 L777.40,112.00 L777.70,109.51 L778.00,107.10 L778.30,104.76 L778.60,102.47 L778.90,100.22 L779.20,98.00 L779.53,95.54 L779.87,93.10 L780.20,90.70 L780.53,88.36 L780.87,86.12 L781.20,84.00 L781.53,81.96 L781.87,79.96 L782.20,78.03 L782.53,76.21 L782.87,74.52 L783.20,73.00 L783.53,71.57 L783.87,70.17 L784.20,68.85 L784.53,67.68 L784.87,66.71 L785.20,66.00 L785.50,65.50 L785.80,65.04 L786.10,64.62 L786.40,64.30 L786.70,64.08 L787.00,64.00 L787.28,64.11 L787.57,64.40 L787.85,64.82 L788.13,65.35 L788.42,65.92 L788.70,66.50 L789.12,67.47 L789.53,68.67 L789.95,70.07 L790.37,71.62 L790.78,73.28 L791.20,75.00 L791.68,77.20 L792.17,79.70 L792.65,82.42 L793.13,85.27 L793.62,88.15 L794.10,91.00 L794.57,93.82 L795.03,96.79 L795.50,99.81 L795.97,102.77 L796.43,105.53 L796.90,108.00 L797.28,109.86 L797.67,111.66 L798.05,113.36 L798.43,114.93 L798.82,116.32 L799.20,117.50 L799.50,118.33 L799.80,119.13 L800.10,119.87 L800.40,120.50 L800.70,120.99 L801.00,121.30 L801.28,121.49 L801.57,121.65 L801.85,121.80 L802.13,121.90 L802.42,121.98 L802.70,122.00" fill="none" stroke="#ff0000" stroke-width="1.3"/>
<rect x="727.2" y="40.4" width="84.80" height="81.60" fill="none" stroke="#000" stroke-width="1.25"/>
<path d="M734.25,122.0v-4.5M769.60,122.0v-4.5M804.95,122.0v-4.5" stroke="#000" stroke-width="1.15" fill="none"/>
<path d="M727.2,99.80h4.5M812.0,99.80h-4.5M727.2,77.60h4.5M812.0,77.60h-4.5" stroke="#000" stroke-width="1.15" fill="none"/>
<text x="717.20" y="128.20" font-size="17.3" text-anchor="end" >0</text>
<text x="717.20" y="106.00" font-size="17.3" text-anchor="end" >0.3</text>
<text x="717.20" y="83.80" font-size="17.3" text-anchor="end" >0.6</text>
<text x="734.55" y="146.40" font-size="17.3" text-anchor="middle" >-5</text>
<text x="772.20" y="146.40" font-size="17.3" text-anchor="middle" >0</text>
<text x="807.15" y="146.40" font-size="17.3" text-anchor="middle" >5</text>
<text x="769.30" y="161.60" font-size="19" text-anchor="middle" class="sf">&#969;</text>
<text x="735.90" y="57.50" font-size="18.0" text-anchor="start" >A</text>
<text x="747.20" y="57.50" font-size="18.2" text-anchor="start" >(</text>
<text x="753.00" y="57.50" font-size="19.5" text-anchor="start" class="sf">&#969;</text>
<text x="764.80" y="57.50" font-size="18.2" text-anchor="start" >)</text>
</g>
</svg>
</body>
</html>
